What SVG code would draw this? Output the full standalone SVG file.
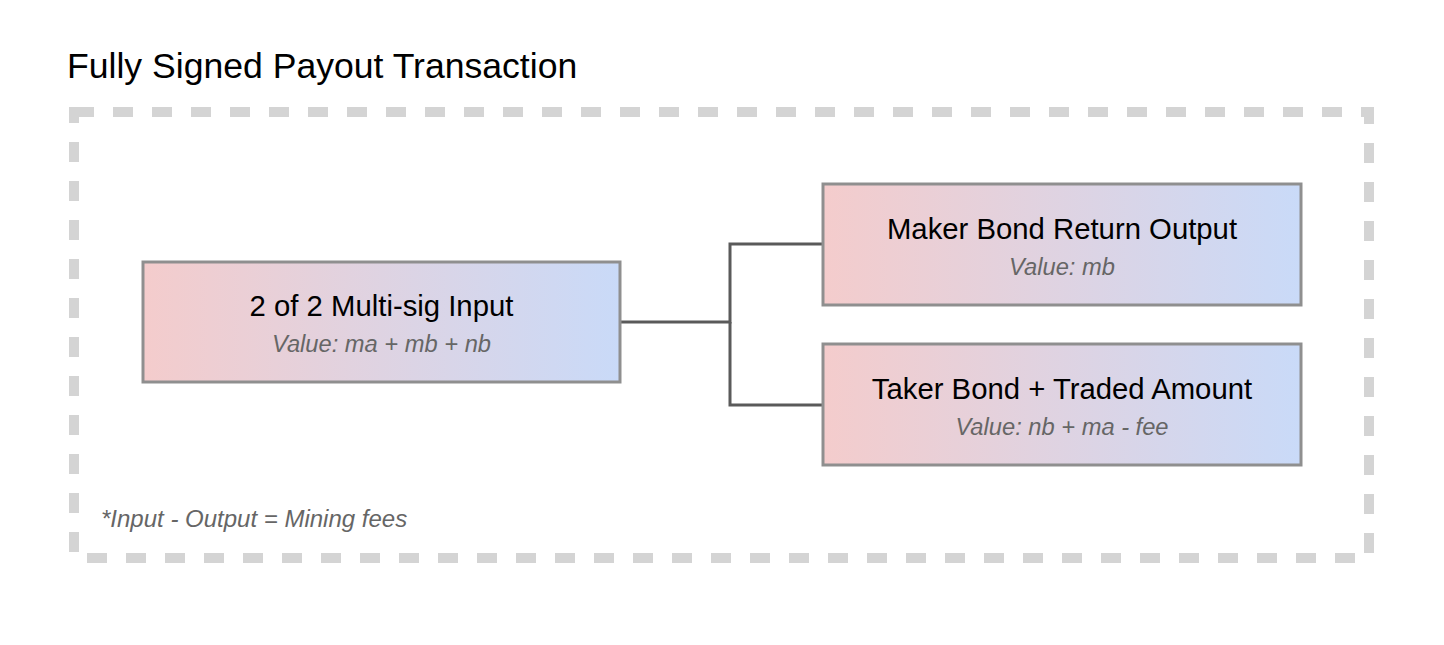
<svg xmlns="http://www.w3.org/2000/svg" width="1444" height="645" viewBox="0 0 1444 645">
<defs>
<linearGradient id="g" x1="0" y1="0" x2="1" y2="0">
<stop offset="0" stop-color="#f4cccc"/>
<stop offset="1" stop-color="#c9daf8"/>
</linearGradient>
</defs>
<style>
.box{fill:url(#g);stroke:#8f8f8f;stroke-width:3}
.main{font-family:"Liberation Sans",Arial,sans-serif;font-size:29.3px;fill:#000;text-anchor:middle}
.val{font-family:"Liberation Sans",Arial,sans-serif;font-size:23.7px;font-style:italic;fill:#666;text-anchor:middle}
.conn{fill:none;stroke:#5a5a5a;stroke-width:3}
</style>
<rect width="1444" height="645" fill="#fff"/>
<text x="67" y="78" font-family="Liberation Sans, Arial, sans-serif" font-size="35.6" fill="#000">Fully Signed Payout Transaction</text>
<rect id="frame" x="74" y="112" width="1295" height="446" fill="none" stroke="#d4d4d4" stroke-width="10" stroke-dasharray="20 19"/>
<g id="connectors">
<path class="conn" d="M620 322 H730 V244 H823"/>
<path class="conn" d="M730 322 V405 H823"/>
</g>
<g id="input">
<rect class="box" x="143" y="262" width="477" height="120"/>
<text class="main" x="381.5" y="316">2 of 2 Multi-sig Input</text>
<text class="val" x="381.5" y="352">Value: ma + mb + nb</text>
</g>
<g id="maker">
<rect class="box" x="823" y="184" width="478" height="121"/>
<text class="main" x="1062" y="239">Maker Bond Return Output</text>
<text class="val" x="1062" y="275">Value: mb</text>
</g>
<g id="taker">
<rect class="box" x="823" y="344" width="478" height="121"/>
<text class="main" x="1062" y="399">Taker Bond + Traded Amount</text>
<text class="val" x="1062" y="435">Value: nb + ma - fee</text>
</g>
<text x="101" y="527" font-family="Liberation Sans, Arial, sans-serif" font-size="24" font-style="italic" fill="#666">*Input - Output = Mining fees</text>
</svg>
